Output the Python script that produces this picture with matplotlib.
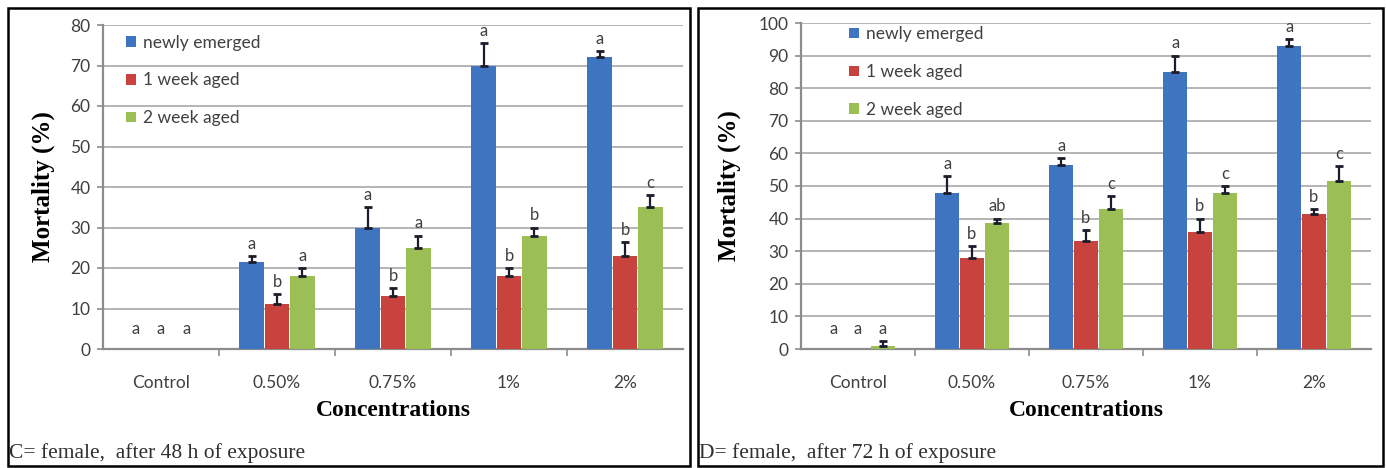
import numpy as np
import matplotlib
matplotlib.use('Agg')
import matplotlib.pyplot as plt
from matplotlib.patches import Rectangle

# categories / series
categories = ['Control', '0.50%', '0.75%', '1%', '2%']
series_names = ['newly emerged', '1 week aged', '2 week aged']

# 48 h female
h48_newly = [0, 21.5, 30, 70, 72]
h48_newly_err = [0, 1.5, 5, 5.5, 1.5]
h48_week1 = [0, 11, 13, 18, 23]
h48_week1_err = [0, 2.5, 2, 2, 3.5]
h48_week2 = [0, 18, 25, 28, 35]
h48_week2_err = [0, 2, 3, 2, 3]
h48_let_newly = ['a', 'a', 'a', 'a', 'a']
h48_let_week1 = ['a', 'b', 'b', 'b', 'b']
h48_let_week2 = ['a', 'a', 'a', 'b', 'c']

# 72 h female
h72_newly = [0, 48, 56.5, 85, 93]
h72_newly_err = [0, 5, 2, 5, 2]
h72_week1 = [0, 28, 33, 36, 41.5]
h72_week1_err = [0, 3.5, 3.5, 4, 1.5]
h72_week2 = [1, 38.5, 43, 48, 51.5]
h72_week2_err = [1.5, 1.5, 4, 2, 4.5]
h72_let_newly = ['a', 'a', 'a', 'a', 'a']
h72_let_week1 = ['a', 'b', 'b', 'b', 'b']
h72_let_week2 = ['a', 'ab', 'c', 'c', 'c']

colors = ['#3F74C0', '#C8423E', '#9BBF55']
W, H = 1386, 468

fig = plt.figure(figsize=(W / 100, H / 100), dpi=100)


def box(x0, y0, x1, y1):
    # axes rect from pixel coords (top-left origin)
    return [x0 / W, (H - y1) / H, (x1 - x0) / W, (y1 - y0) / H]


def panel(rect, vals, errs, lets, ymax, leg_xy, ylab_x, floor):
    ax = fig.add_axes(rect)
    x = np.arange(len(categories))
    bw = 0.218
    for i in range(3):
        pos = x + (i - 1) * bw
        ax.bar(pos, vals[i], bw * 0.97, color=colors[i], label=series_names[i], zorder=3)
        e = np.array(errs[i])
        v = np.array(vals[i])
        m = e > 0
        ax.errorbar(pos[m], v[m], yerr=[np.zeros(m.sum()), e[m]], fmt='none', ecolor='#1c1c2a',
                    elinewidth=1.6, capsize=3, capthick=2, zorder=4)
        for j in range(len(categories)):
            top = max(vals[i][j] + errs[i][j], floor)
            ax.annotate(lets[i][j], (pos[j], top), xytext=(0, 3), textcoords='offset points',
                        ha='center', va='bottom', fontsize=12, color='#404040', family='Lato')
    ax.set_xlim(-0.5, len(categories) - 0.5)
    ax.set_ylim(0, ymax)
    ax.set_yticks(np.arange(0, ymax + 1, 10))
    ax.yaxis.grid(True, color='#b4b4b4', linewidth=1.4, zorder=0)
    ax.set_axisbelow(True)
    for s in ['top', 'right']:
        ax.spines[s].set_visible(False)
    for s in ['left', 'bottom']:
        ax.spines[s].set_color('#8c8c8c')
        ax.spines[s].set_linewidth(1.6)
    ax.set_xticks(x)
    ax.set_xticklabels(categories)
    ax.set_xticks(np.arange(0.5, len(categories) - 0.5), minor=True)
    ax.tick_params(axis='x', which='major', length=0, pad=19, labelsize=12.5, labelcolor='#404040')
    ax.tick_params(axis='x', which='minor', length=5, color='#8c8c8c', width=1.2, direction='out')
    ax.tick_params(axis='y', length=4, color='#8c8c8c', width=1.2, labelsize=12.5,
                   labelcolor='#404040', pad=5)
    for lb in ax.get_xticklabels() + ax.get_yticklabels():
        lb.set_family('Lato')
    ax.text(0.5, -0.19, 'Concentrations', transform=ax.transAxes, ha='center', va='center',
            fontsize=17, fontweight='bold', family='Liberation Serif')
    ax.text(ylab_x, 0.5, 'Mortality (%)', transform=ax.transAxes, rotation=90, ha='center',
            va='center', fontsize=18, fontweight='bold', family='Liberation Serif')
    leg = ax.legend(loc='upper left', bbox_to_anchor=leg_xy, frameon=False,
                    handlelength=0.55, handleheight=0.55, handletextpad=0.4, labelspacing=1.25,
                    borderpad=0, borderaxespad=0, prop={'family': 'Lato', 'size': 12.5})
    for t in leg.get_texts():
        t.set_color('#404040')
    return ax


panel(box(103, 25, 683, 349), [h48_newly, h48_week1, h48_week2],
      [h48_newly_err, h48_week1_err, h48_week2_err],
      [h48_let_newly, h48_let_week1, h48_let_week2], 80, (0.04, 0.97), -0.103, 2.0)
panel(box(801, 23, 1371, 349), [h72_newly, h72_week1, h72_week2],
      [h72_newly_err, h72_week1_err, h72_week2_err],
      [h72_let_newly, h72_let_week1, h72_let_week2], 100, (0.085, 0.99), -0.126, 2.5)

# panel frames + captions
for x0, x1 in [(8, 690), (698, 1383)]:
    fig.patches.append(Rectangle((x0 / W, (H - 466) / H), (x1 - x0) / W, 458 / H,
                                 transform=fig.transFigure, fill=False, edgecolor='black',
                                 linewidth=1.8))
fig.text(9 / W, (H - 453) / H, 'C= female,  after 48 h of exposure', ha='left', va='center',
         fontsize=15.5, family='Liberation Serif', color='#303030')
fig.text(699 / W, (H - 453) / H, 'D= female,  after 72 h of exposure', ha='left', va='center',
         fontsize=15.5, family='Liberation Serif', color='#303030')

plt.savefig('out.png', dpi=100)
